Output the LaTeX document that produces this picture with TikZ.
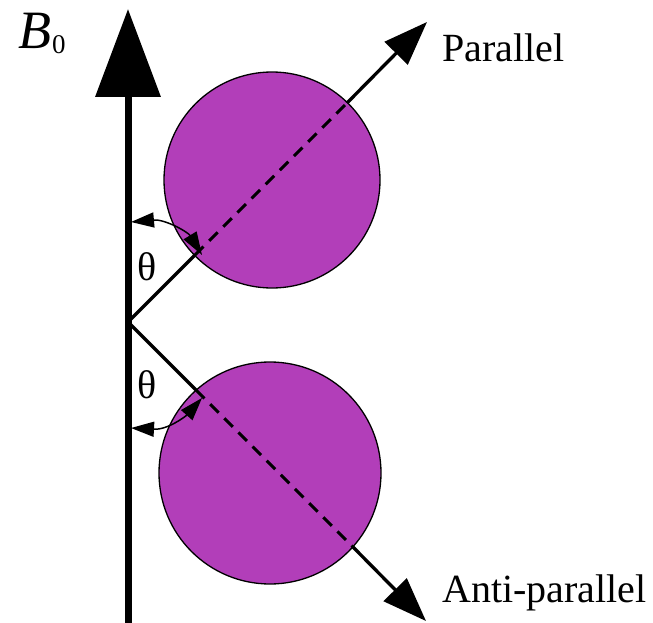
\documentclass[tikz,border=0pt]{standalone}
\usepackage{fontspec}
\setmainfont{Liberation Serif}
\usetikzlibrary{arrows.meta}
\definecolor{ballpurple}{RGB}{178,62,185}
\tikzset{
  ball/.style={draw=black, line width=1.3pt, fill=ballpurple},
  vec/.style={line width=3.3pt},
  vecdash/.style={line width=3pt, dash pattern=on 12pt off 8pt},
  bigtip/.style={-{Triangle[length=44pt,width=32pt]}},
  angarrow/.style={line width=1.5pt, {Triangle[length=23pt,width=15pt]}-{Triangle[length=23pt,width=15pt]}},
  lbl/.style={inner sep=0pt, font=\fontsize{40}{44}\selectfont}
}
\begin{document}
\begin{tikzpicture}[x=1pt,y=-1pt]
\useasboundingbox (0,0) rectangle (653,623);
% circles
\node[ball, circle, minimum size=216pt, inner sep=0pt] (top) at (272,180) {};
\node[ball, circle, minimum size=222pt, inner sep=0pt] (bot) at (270,473) {};
% key points
\coordinate (O) at (128,322);
\coordinate (axisbot) at (128,623);
\coordinate (axistip) at (128,9);
\coordinate (pin) at (195,255);
\coordinate (pout) at (347,103);
\coordinate (ptip) at (427,22);
\coordinate (ain) at (196,390);
\coordinate (aout) at (353,547);
\coordinate (atip) at (426,621);
% B0 axis
\draw[line width=7pt, -{Triangle[length=88pt,width=64pt]}] (axisbot) -- (axistip);
% parallel
\draw[vec] (O) -- (pin);
\draw[vecdash] (pin) -- (pout);
\draw[vec, bigtip] (pout) -- (ptip);
% anti-parallel
\draw[vec] (O) -- (ain);
\draw[vecdash] (ain) -- (aout);
\draw[vec, bigtip] (aout) -- (atip);
% angle arcs
\coordinate (ta) at (131,222);
\coordinate (tb) at (202,255);
\draw[angarrow] (ta) .. controls (165,219) and (188,232) .. (tb);
\coordinate (ba) at (131,428);
\coordinate (bb) at (202,398);
\draw[angarrow] (ba) .. controls (168,430) and (186,416) .. (bb);
% labels
\node[lbl] (th1) at (147,267) {θ};
\node[lbl] (th2) at (147,385) {θ};
\node[lbl, anchor=base west] (par) at (442,62) {Parallel};
\node[lbl, anchor=base west] (anti) at (442,602) {Anti-parallel};
\node[inner sep=0pt, anchor=base west, font=\fontsize{54}{58}\selectfont] (B0) at (18,49) {\textit{B}\kern1pt\raisebox{-5pt}{\fontsize{27}{29}\selectfont 0}};
\end{tikzpicture}
\end{document}
